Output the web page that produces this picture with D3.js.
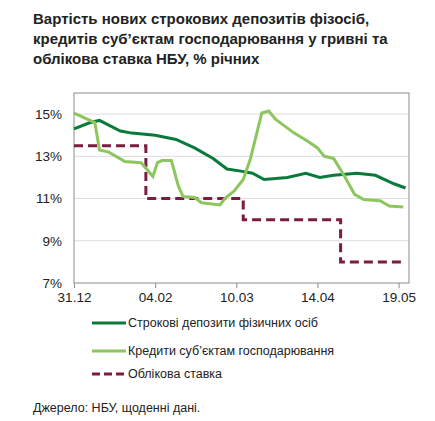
<!DOCTYPE html>
<html><head><meta charset="utf-8">
<script src="https://cdn.jsdelivr.net/npm/d3@7"></script>
<style>body{margin:0;background:#fff;font-family:"Liberation Sans",Arial,sans-serif;}</style>
</head><body>
<script>
// days since 31.12.2019
var depositDays = [0, 7, 11, 20, 25, 35, 44, 52, 60, 66, 72, 77, 82, 92, 100, 106, 112, 122, 130, 138, 143];
var depositVals = [14.3, 14.6, 14.7, 14.2, 14.1, 14.0, 13.8, 13.4, 12.9, 12.4, 12.3, 12.2, 11.9, 12.0, 12.2, 12.0, 12.1, 12.2, 12.1, 11.7, 11.5];
var loanDays = [0, 9, 11, 15, 22, 29, 34, 36, 38, 42, 45, 47, 52, 55, 63, 65, 69, 73, 76, 81, 84, 87, 95, 101, 105, 108, 112, 117, 121, 125, 132, 136, 142];
var loanVals = [15.05, 14.6, 13.3, 13.2, 12.75, 12.7, 12.05, 12.7, 12.8, 12.8, 11.6, 11.1, 11.05, 10.8, 10.7, 11.0, 11.35, 11.9, 12.85, 15.05, 15.15, 14.75, 14.1, 13.7, 13.4, 13.0, 12.9, 12.0, 11.2, 10.95, 10.9, 10.65, 10.6];
var rateDays = [0, 31, 73, 115, 143];
var rateVals = [13.5, 11, 10, 8, 8];
var xTickDays = [0, 35, 70, 105, 140];
var xTickLabels = ["31.12", "04.02", "10.03", "14.04", "19.05"];
var yTicks = [7, 9, 11, 13, 15];
var legendLabels = ["Строкові депозити фізичних осіб", "Кредити суб’єктам господарювання", "Облікова ставка"];

var svg = d3.select("body").append("svg").attr("width", 435).attr("height", 421);

var title = ["Вартість нових строкових депозитів фізосіб,", "кредитів суб’єктам господарювання у гривні та", "облікова ставка НБУ, % річних"];
svg.selectAll("text.title").data(title).join("text")
  .attr("x", 33).attr("y", function(d, i) { return 24 + i * 20; })
  .attr("font-size", 15).attr("font-weight", "bold").attr("fill", "#222").text(function(d) { return d; });

var pLeft = 74, pRight = 409, pTop = 93, pBottom = 283;
var x = d3.scaleLinear().domain([0, 144.5]).range([pLeft, pRight]);
var y = d3.scaleLinear().domain([7, 16]).range([pBottom, pTop]);

svg.append("g").selectAll("line").data(yTicks.slice(1)).join("line")
  .attr("x1", pLeft).attr("x2", pRight).attr("y1", y).attr("y2", y)
  .attr("stroke", "#dcdcdc");

svg.append("rect").attr("x", pLeft).attr("y", pTop).attr("width", pRight - pLeft).attr("height", pBottom - pTop)
  .attr("fill", "none").attr("stroke", "#8c8c8c");

var yAxis = svg.append("g").attr("transform", "translate(" + pLeft + ",0)")
  .call(d3.axisLeft(y).tickValues(yTicks).tickSize(0).tickPadding(12).tickFormat(function(d) { return d + "%"; }));
yAxis.select(".domain").remove();
yAxis.selectAll("text").attr("font-size", 13.5).attr("fill", "#222").attr("font-family", "Liberation Sans, Arial");

var xAxis = svg.append("g").attr("transform", "translate(0," + pBottom + ")")
  .call(d3.axisBottom(x).tickValues(xTickDays).tickSize(5).tickPadding(4)
    .tickFormat(function(d, i) { return xTickLabels[i]; }));
xAxis.select(".domain").remove();
xAxis.selectAll("line").attr("stroke", "#8c8c8c");
xAxis.selectAll("text").attr("font-size", 13.5).attr("fill", "#222").attr("font-family", "Liberation Sans, Arial");

var line = d3.line().x(function(d) { return x(d[0]); }).y(function(d) { return y(d[1]); });
var stepLine = d3.line().curve(d3.curveStepAfter).x(function(d) { return x(d[0]); }).y(function(d) { return y(d[1]); });

var colors = ["#0a7a3c", "#8dc65f", "#7a1d40"];

svg.append("path").datum(d3.zip(rateDays, rateVals)).attr("d", stepLine)
  .attr("fill", "none").attr("stroke", colors[2]).attr("stroke-width", 3).attr("stroke-dasharray", "9,5");
svg.append("path").datum(d3.zip(depositDays, depositVals)).attr("d", line)
  .attr("fill", "none").attr("stroke", colors[0]).attr("stroke-width", 3);
svg.append("path").datum(d3.zip(loanDays, loanVals)).attr("d", line)
  .attr("fill", "none").attr("stroke", colors[1]).attr("stroke-width", 3);

var legY = [323, 351, 374];
legendLabels.forEach(function(label, i) {
  svg.append("line").attr("x1", 92).attr("x2", 126).attr("y1", legY[i]).attr("y2", legY[i])
    .attr("stroke", colors[i]).attr("stroke-width", 3)
    .attr("stroke-dasharray", i === 2 ? "8,4" : null);
  svg.append("text").attr("x", 128).attr("y", legY[i] + 4).attr("font-size", 12.5).attr("fill", "#222").text(label);
});

svg.append("text").attr("x", 33).attr("y", 412).attr("font-size", 12.5).attr("fill", "#222")
  .text("Джерело: НБУ, щоденні дані.");
</script>
</body></html>
